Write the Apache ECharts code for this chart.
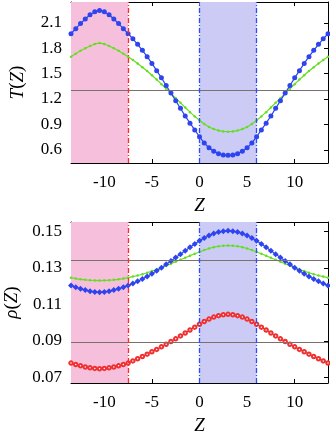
<!DOCTYPE html>
<html>
<head>
<meta charset="utf-8">
<script src="https://cdn.jsdelivr.net/npm/echarts@6/dist/echarts.min.js"></script>
<style>
  html, body { margin: 0; padding: 0; background: #fff; }
  #main { width: 330px; height: 432px; }
</style>
</head>
<body>
<div id="main"></div>
<script>
// Z 网格
var zs = [-13.5, -13, -12.5, -12, -11.5, -11, -10.5, -10, -9.5, -9, -8.5, -8, -7.5, -7, -6.5, -6, -5.5, -5, -4.5, -4, -3.5, -3, -2.5, -2, -1.5, -1, -0.5,
  0, 0.5, 1, 1.5, 2, 2.5, 3, 3.5, 4, 4.5, 5, 5.5, 6, 6.5, 7, 7.5, 8, 8.5, 9, 9.5, 10, 10.5, 11, 11.5, 12, 12.5, 13, 13.5];

// T(Z) 蓝色
var tBlue = [1.97, 2.03, 2.09, 2.145, 2.195, 2.23, 2.245, 2.23, 2.195, 2.145, 2.09, 2.03, 1.97, 1.91, 1.845, 1.775, 1.70, 1.62, 1.535, 1.45, 1.36,
  1.27, 1.18, 1.09, 1.00, 0.915, 0.835, 0.755, 0.68, 0.625, 0.585, 0.555, 0.54, 0.535, 0.54, 0.555, 0.585, 0.625, 0.68, 0.755, 0.835,
  0.915, 1.00, 1.09, 1.18, 1.27, 1.36, 1.45, 1.535, 1.62, 1.70, 1.775, 1.845, 1.91, 1.97];
// T(Z) 绿色
var tGreen = [1.70, 1.735, 1.77, 1.80, 1.825, 1.85, 1.86, 1.85, 1.825, 1.80, 1.77, 1.735, 1.70, 1.66, 1.62, 1.575, 1.53, 1.48, 1.43, 1.375, 1.32,
  1.265, 1.21, 1.155, 1.10, 1.045, 0.995, 0.95, 0.905, 0.87, 0.845, 0.828, 0.818, 0.815, 0.818, 0.828, 0.845, 0.87, 0.905, 0.95, 0.995,
  1.045, 1.10, 1.155, 1.21, 1.265, 1.32, 1.375, 1.43, 1.48, 1.53, 1.575, 1.62, 1.66, 1.70];

// rho(Z)
var rhoBlue = [0.1203, 0.1194, 0.1185, 0.1178, 0.1172, 0.1168, 0.1166, 0.1168, 0.1172, 0.1178, 0.1185, 0.1194, 0.1203, 0.1214, 0.1226, 0.1239,
  0.1253, 0.1268, 0.1284, 0.1301, 0.1319, 0.1337, 0.1356, 0.1375, 0.1394, 0.1413, 0.1431, 0.1448, 0.1463, 0.1477, 0.1488, 0.1496, 0.1501,
  0.1503, 0.1501, 0.1496, 0.1488, 0.1477, 0.1463, 0.1448, 0.1431, 0.1413, 0.1394, 0.1375, 0.1356, 0.1337, 0.1319, 0.1301, 0.1284, 0.1268,
  0.1253, 0.1239, 0.1226, 0.1214, 0.1203];
var rhoGreen = [0.1246, 0.1241, 0.1237, 0.1234, 0.1232, 0.1231, 0.1230, 0.1231, 0.1232, 0.1234, 0.1237, 0.1241, 0.1246, 0.1252, 0.1258, 0.1265,
  0.1273, 0.1282, 0.1291, 0.1301, 0.1311, 0.1322, 0.1333, 0.1344, 0.1355, 0.1366, 0.1377, 0.1387, 0.1397, 0.1406, 0.1413, 0.1418, 0.1421,
  0.1422, 0.1421, 0.1418, 0.1413, 0.1406, 0.1397, 0.1387, 0.1377, 0.1366, 0.1355, 0.1344, 0.1333, 0.1322, 0.1311, 0.1301, 0.1291, 0.1282,
  0.1273, 0.1265, 0.1258, 0.1252, 0.1246];
var rhoRed = [0.0778, 0.0770, 0.0763, 0.0757, 0.0752, 0.0749, 0.0747, 0.0749, 0.0752, 0.0757, 0.0763, 0.0770, 0.0778, 0.0790, 0.0802, 0.0814,
  0.0827, 0.0840, 0.0853, 0.0867, 0.0881, 0.0896, 0.0911, 0.0927, 0.0943, 0.0959, 0.0975, 0.0991, 0.1006, 0.1019, 0.1030, 0.1038, 0.1043,
  0.1045, 0.1043, 0.1038, 0.1030, 0.1019, 0.1006, 0.0991, 0.0975, 0.0959, 0.0943, 0.0927, 0.0911, 0.0896, 0.0881, 0.0867, 0.0853, 0.0840,
  0.0827, 0.0814, 0.0802, 0.0790, 0.0778];

// 刻度
var zTicks = [-10, -5, 0, 5, 10];
var tTicks = [0.6, 0.9, 1.2, 1.5, 1.8, 2.1];
var rhoTicks = [0.07, 0.09, 0.11, 0.13, 0.15];
// 参考线
var tRef = [1.3];
var rhoRef = [0.134, 0.0893];
// 阴影区
var redBand = [-13.5, -7.5];
var blueBand = [0, 6];

function pairs(xs, ys) {
  var out = [];
  for (var i = 0; i < xs.length; i++) out.push([xs[i], ys[i]]);
  return out;
}

var font = 'Liberation Serif';
var pink = '#f6c0dc';
var lavender = '#cbcbf6';
var redLine = '#ff2a2a';
var blueLine = '#2a4cff';

function xAxisCfg(grid, pos, show) {
  return {
    type: 'value', gridIndex: grid, position: pos, min: -13.5, max: 13.5,
    name: show ? 'Z' : '', nameLocation: 'middle', nameGap: 33,
    nameTextStyle: { color: '#000', fontSize: 19, fontFamily: font, fontStyle: 'italic' },
    axisLine: { onZero: false, lineStyle: { color: '#000', width: 1 } },
    axisTick: { inside: true, length: 4, customValues: zTicks, lineStyle: { color: '#000' } },
    axisLabel: { show: show, customValues: zTicks, margin: 11, color: '#000', fontSize: 17, fontFamily: font },
    splitLine: { show: false }
  };
}
function yAxisCfg(grid, pos, show, min, max, ticks, nameRich) {
  return {
    type: 'value', gridIndex: grid, position: pos, min: min, max: max,
    name: show ? nameRich : '', nameLocation: 'middle', nameGap: 44, nameRotate: 90,
    nameTextStyle: {
      color: '#000', fontSize: 19, fontFamily: font,
      rich: { i: { fontStyle: 'italic', fontSize: 19, fontFamily: font, color: '#000' } }
    },
    axisLine: { onZero: false, lineStyle: { color: '#000', width: 1 } },
    axisTick: { inside: true, length: 4, customValues: ticks, lineStyle: { color: '#000' } },
    axisLabel: { show: show, customValues: ticks, margin: 9, color: '#000', fontSize: 17, fontFamily: font },
    splitLine: { show: false }
  };
}

// 阴影区
function bands() {
  return {
    silent: true,
    data: [
      [{ xAxis: redBand[0], itemStyle: { color: pink } }, { xAxis: redBand[1] }],
      [{ xAxis: blueBand[0], itemStyle: { color: lavender } }, { xAxis: blueBand[1] }]
    ]
  };
}

// 参考线和边界线
function markLines(refs) {
  var data = [];
  for (var i = 0; i < refs.length; i++) data.push({ yAxis: refs[i] });
  var dash = [5, 2, 1, 2];
  data.push({ xAxis: redBand[1], lineStyle: { color: redLine, type: dash, width: 1.3 } });
  data.push({ xAxis: blueBand[0], lineStyle: { color: blueLine, type: dash, width: 1.3 } });
  data.push({ xAxis: blueBand[1], lineStyle: { color: blueLine, type: dash, width: 1.3 } });
  return {
    silent: true, symbol: 'none', animation: false, precision: 4,
    label: { show: false },
    lineStyle: { color: '#7a7070', type: 'solid', width: 1 },
    data: data
  };
}

var chart = echarts.init(document.getElementById('main'));
var option = {
  backgroundColor: '#ffffff',
  animation: false,
  grid: [
    { left: 71, right: 2, top: 2, height: 161, containLabel: false, outerBoundsMode: 'none' },
    { left: 71, right: 2, top: 222, height: 161, containLabel: false, outerBoundsMode: 'none' }
  ],
  xAxis: [
    xAxisCfg(0, 'bottom', true), xAxisCfg(0, 'top', false),
    xAxisCfg(1, 'bottom', true), xAxisCfg(1, 'top', false)
  ],
  yAxis: [
    yAxisCfg(0, 'left', true, 0.445, 2.345, tTicks, '{i|T}({i|Z})'),
    yAxisCfg(0, 'right', false, 0.445, 2.345, tTicks, ''),
    yAxisCfg(1, 'left', true, 0.0669, 0.1551, rhoTicks, '{i|ρ}({i|Z})'),
    yAxisCfg(1, 'right', false, 0.0669, 0.1551, rhoTicks, '')
  ],
  series: [
    {
      type: 'line', xAxisIndex: 0, yAxisIndex: 0, data: pairs(zs, tGreen), z: 3,
      symbol: 'circle', symbolSize: 2.5, lineStyle: { color: '#66dd22', width: 1.2 }, itemStyle: { color: '#66dd22' },
      markArea: bands(), markLine: markLines(tRef)
    },
    {
      type: 'line', xAxisIndex: 0, yAxisIndex: 0, data: pairs(zs, tBlue), z: 4,
      symbol: 'circle', symbolSize: 5, lineStyle: { color: '#2d44f0', width: 1.2 }, itemStyle: { color: '#2d44f0' }
    },
    {
      type: 'line', xAxisIndex: 2, yAxisIndex: 2, data: pairs(zs, rhoGreen), z: 3,
      symbol: 'circle', symbolSize: 2.5, lineStyle: { color: '#66dd22', width: 1.2 }, itemStyle: { color: '#66dd22' },
      markArea: bands(), markLine: markLines(rhoRef)
    },
    {
      type: 'line', xAxisIndex: 2, yAxisIndex: 2, data: pairs(zs, rhoBlue), z: 4,
      symbol: 'diamond', symbolSize: 6, lineStyle: { color: '#2d44f0', width: 1.2 }, itemStyle: { color: '#2d44f0' }
    },
    {
      type: 'line', xAxisIndex: 2, yAxisIndex: 2, data: pairs(zs, rhoRed), z: 4,
      symbol: 'emptyCircle', symbolSize: 3.5, lineStyle: { color: '#f03030', width: 1 }, itemStyle: { color: '#f03030', borderWidth: 0.9 }
    }
  ]
};
chart.setOption(option);
</script>
</body>
</html>
